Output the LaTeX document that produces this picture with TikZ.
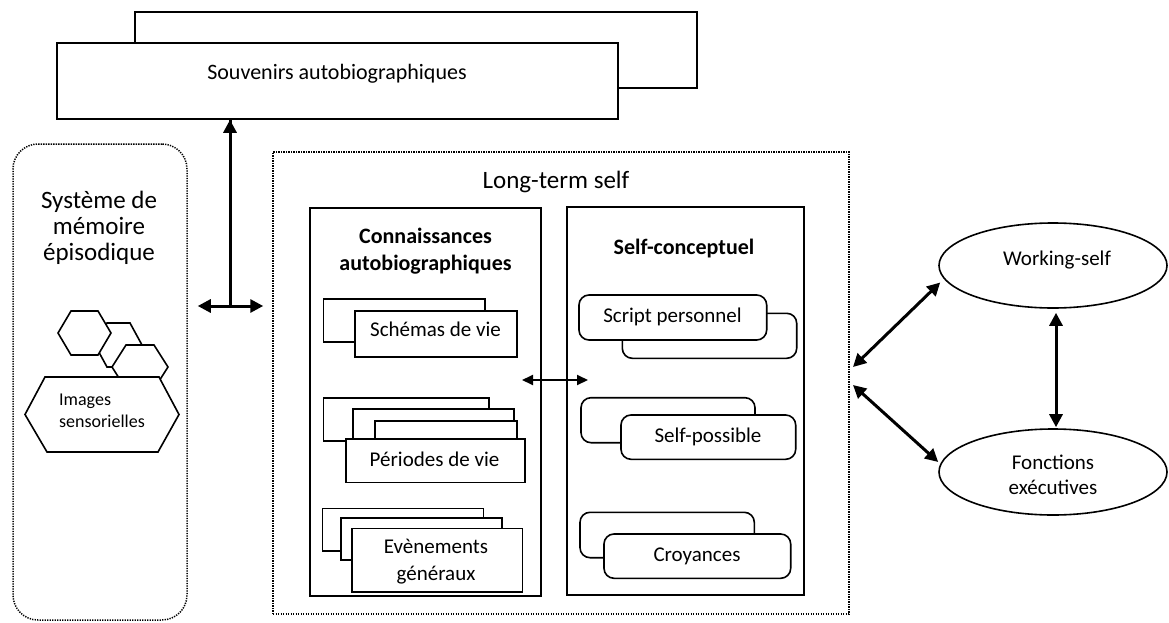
\documentclass[tikz,border=0pt]{standalone}
\usepackage{fontspec}
\setmainfont{Carlito}
\usetikzlibrary{arrows.meta,shapes.geometric,fit}
\begin{document}
\begin{tikzpicture}[x=1pt,y=-1pt,
  box/.style={draw,line width=1.6pt,fill=white,inner sep=0pt},
  rbox/.style={box,rounded corners=10pt},
  dotbox/.style={draw,line width=1.5pt,dash pattern=on 1.3pt off 1.2pt,inner sep=0pt},
  hexa/.style={draw,line width=1.6pt,fill=white,line join=miter},
  ell/.style={draw,ellipse,line width=1.6pt,inner sep=0pt},
  txt/.style={inner sep=0pt,align=center,font=\fontsize{21}{26}\selectfont},
  bigtxt/.style={inner sep=0pt,align=center,font=\fontsize{25}{26}\selectfont},
  headtxt/.style={inner sep=0pt,align=center,font=\bfseries\fontsize{22}{27}\selectfont},
  dblarrow/.style={line width=3pt,{Triangle[length=13pt,width=13pt]}-{Triangle[length=13pt,width=13pt]}},
  onearrow/.style={line width=3pt,-{Triangle[length=13pt,width=13pt]}},
  midarrow/.style={line width=2pt,{Triangle[length=11pt,width=10pt]}-{Triangle[length=11pt,width=10pt]}}
]
\useasboundingbox (0,0) rectangle (1169,623);

% Souvenirs autobiographiques
\node[box,fit={(135,12) (697,88)}] (sb2) {};
\node[box,fit={(57,43) (618,119)}] (sb) {};
\node[txt,font=\fontsize{22}{26}\selectfont] (sbt) at (337,74) {Souvenirs autobiographiques};

% Episodic memory system
\node[dotbox,rounded corners=25pt,fit={(13,144) (187,620)}] (ep) {};
\node[bigtxt] (ept) at (99,228) {Système de\\mémoire\\épisodique};
\draw[hexa] (107,323) -- (130,323) -- (142,345) -- (130,367) -- (107,367) -- (95,345) -- cycle;
\draw[hexa] (71,311) -- (98,311) -- (111,333) -- (98,355) -- (71,355) -- (58,333) -- cycle;
\draw[hexa] (126,345) -- (154,345) -- (168,367) -- (154,389) -- (126,389) -- (112,367) -- cycle;
\draw[hexa] (45,377) -- (159,377) -- (179,414.5) -- (158,452) -- (47,452) -- (25,414.5) -- cycle;
\node[inner sep=0pt,align=left,anchor=west,font=\fontsize{18}{22}\selectfont] (img) at (59,411) {Images\\sensorielles};

% Long-term self
\node[dotbox,fit={(273,152) (849,614)}] (lts) {};
\node[bigtxt] (ltst) at (556,182) {Long-term self};

% Connaissances autobiographiques
\node[box,fit={(310,208) (541,596)}] (ca) {};
\node[headtxt] (cat) at (425.5,251.5) {Connaissances\\autobiographiques};
\node[box,fit={(323.3,299) (485,341.7)}] (s1b) {};
\node[box,fit={(355,310.7) (516.7,356.7)}] (s1) {};
\node[txt] (s1t) at (435.5,329.5) {Schémas de vie};
\node[box,fit={(323.3,397.7) (489,440.7)}] (p1a) {};
\node[box,fit={(352.7,409) (514,450)}] (p1b) {};
\node[box,fit={(375,420.7) (517,450)}] (p1c) {};
\node[box,fit={(346,439) (525,482.3)}] (p1) {};
\node[txt] (p1t) at (434.5,459.5) {Périodes de vie};
\node[box,fit={(322.3,508.3) (483.3,550.7)}] (e1a) {};
\node[box,fit={(340.7,517.7) (502,560)}] (e1b) {};
\node[box,fit={(351.7,528.3) (522.3,591.7)}] (e1) {};
\node[txt,font=\fontsize{21}{27}\selectfont] (e1t) at (436,561.5) {Evènements\\généraux};

% Self-conceptuel
\node[box,fit={(567,207) (804,595)}] (sc) {};
\node[headtxt] (sct) at (684,249) {Self-conceptuel};
\node[rbox,fit={(622.3,313.3) (796.7,358.3)}] (spb) {};
\node[rbox,fit={(579,295) (766.7,340)}] (sp) {};
\node[txt] (spt) at (672.5,317) {Script personnel};
\node[rbox,fit={(581,397.7) (755,442.7)}] (psb) {};
\node[rbox,fit={(621,415) (795.7,459.3)}] (ps) {};
\node[txt] (pst) at (708,437) {Self-possible};
\node[rbox,fit={(580,512.3) (754.3,557.7)}] (crb) {};
\node[rbox,fit={(604,534) (790.7,578.3)}] (cr) {};
\node[txt] (crt) at (697,556) {Croyances};

% Working-self and executive functions
\node[ell,minimum width=228pt,minimum height=85pt] (ws) at (1053,265.5) {};
\node[txt] (wst) at (1057,260) {Working-self};
\node[ell,minimum width=228pt,minimum height=86pt] (fe) at (1053,472) {};
\node[txt,font=\fontsize{21}{25}\selectfont] (fet) at (1053,474.5) {Fonctions\\exécutives};

% connectors
\coordinate (j) at (230,306);
\draw[onearrow] (j) -- (j |- sb.south) ++(0,0);
\draw[dblarrow] ([xshift=10pt]ep.east |- j) -- ([xshift=-9pt]lts.west |- j);
\coordinate (m1) at (522,380);
\coordinate (m2) at (588,380);
\draw[midarrow] (m1) -- (m2);
\coordinate (r1) at (853,367);
\coordinate (r2) at (853,385);
\draw[dblarrow] (r1) -- ([shift={(2,17)}]ws.west);
\draw[dblarrow] (r2) -- ([shift={(0,-10)}]fe.west);
\draw[dblarrow,shorten <=4pt,shorten >=1pt] ([xshift=3pt]ws.south) -- ([xshift=3pt]fe.north);
\end{tikzpicture}
\end{document}
